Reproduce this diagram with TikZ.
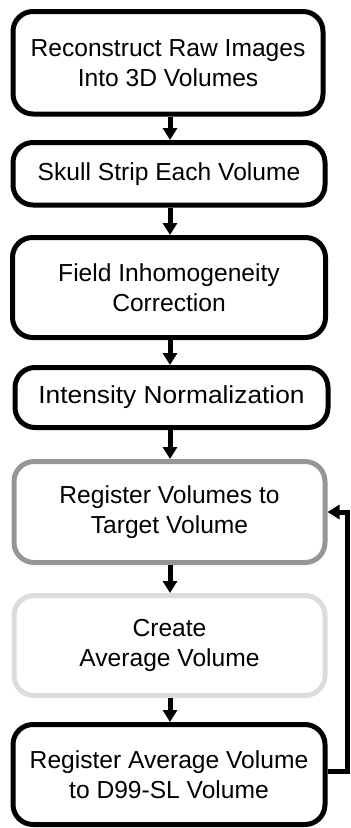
\documentclass[tikz,border=0pt]{standalone}
\usepackage{fontspec}
\setmainfont{Liberation Sans}
\usetikzlibrary{arrows.meta}
\definecolor{stagegray}{RGB}{150,150,150}
\definecolor{stagelight}{RGB}{220,220,220}
\begin{document}
\begin{tikzpicture}[x=1pt,y=-1pt,
  stage/.style={draw=black, line width=5pt, rounded corners=20pt, align=center,
    inner sep=0pt, text=black, font=\fontsize{24.6}{30}\selectfont},
  flow/.style={line width=5pt, -{Triangle[width=14pt,length=12pt]}},
]
\useasboundingbox (0,0) rectangle (351,828);

% processing stages
\node[stage, minimum width=310pt, minimum height=102.5pt] (b1) at (168,62.75)
  {Reconstruct Raw Images\\Into 3D Volumes};
\node[stage, minimum width=312pt, minimum height=62.5pt] (b2) at (169,173.75)
  {Skull Strip Each Volume};
\node[stage, minimum width=313pt, minimum height=100pt] (b3) at (169,287.5)
  {Field Inhomogeneity\\Correction};
\node[stage, minimum width=313pt, minimum height=60pt] (b4) at (171.5,397.5)
  {\scalebox{1.07}[1]{Intensity Normalization}};
\node[stage, draw=stagegray, minimum width=311pt, minimum height=101pt] (b5) at (169.5,512)
  {Register Volumes to\\Target Volume};
\node[stage, draw=stagelight, minimum width=311pt, minimum height=100pt] (b6) at (169.5,645.5)
  {Create\\Average Volume};
\node[stage, minimum width=312pt, minimum height=100pt] (b7) at (169,774.5)
  {Register Average Volume\\to D99-SL Volume};

% forward connectors, all on one vertical axis
\coordinate (axis) at (170,0);
\draw[flow] (b1.south -| axis) -- (b2.north -| axis);
\draw[flow] (b2.south -| axis) -- (b3.north -| axis);
\draw[flow] (b3.south -| axis) -- (b4.north -| axis);
\draw[flow] (b4.south -| axis) -- (b5.north -| axis);
\draw[flow] (b5.south -| axis) -- (b6.north -| axis);
\draw[flow] (b6.south -| axis) -- (b7.north -| axis);

% feedback loop back to the registration step
\coordinate (loop) at (347,0);
\draw[flow] ([yshift=3.5pt]b7.east) -- ([yshift=3.5pt]b7.east -| loop) |- (b5.east);
\end{tikzpicture}
\end{document}
